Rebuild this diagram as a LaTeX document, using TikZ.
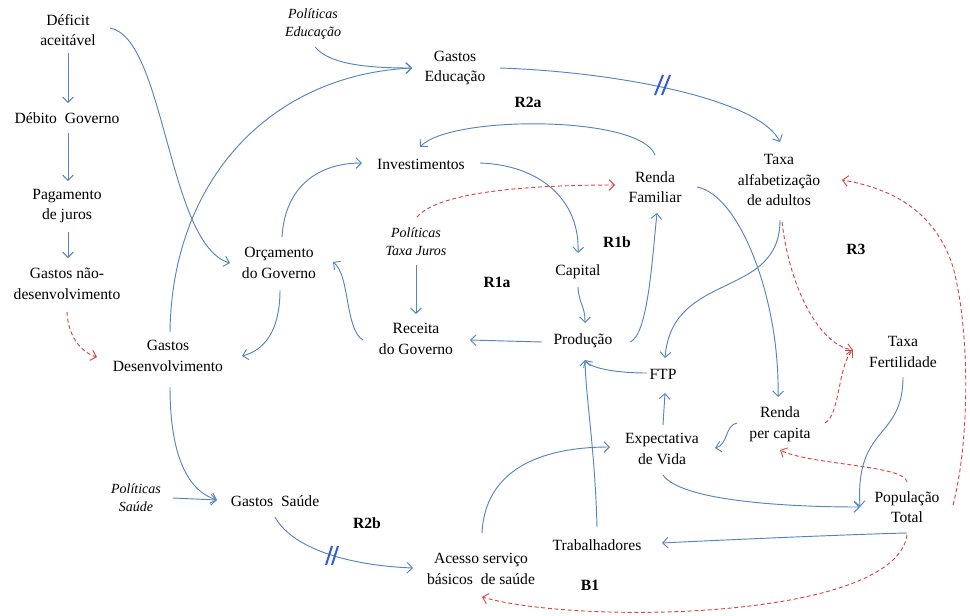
\documentclass[tikz,border=0pt]{standalone}
\usepackage{fontspec}
\setmainfont{Liberation Serif}
\newfontfamily\diagfont{Liberation Serif}
\usetikzlibrary{arrows.meta,calc}
\definecolor{linkblue}{RGB}{86,132,190}
\definecolor{linkred}{RGB}{220,68,68}
\definecolor{delayblue}{RGB}{50,90,215}

\begin{document}
\begin{tikzpicture}[x=0.75pt,y=-0.75pt,
  var/.style={align=center,font=\diagfont\fontsize{11.7}{15.5}\selectfont,inner sep=1pt},
  pol/.style={align=center,font=\diagfont\fontsize{10.5}{13.5}\selectfont\itshape,inner sep=1pt},
  loopname/.style={font=\diagfont\fontsize{11.7}{14}\selectfont\bfseries,inner sep=1pt},
  link/.style={draw=linkblue,line width=0.7pt,-{Straight Barb[length=4pt,width=8pt]}},
  neg/.style={draw=linkred,line width=0.7pt,dash pattern=on 3pt off 2pt,-{Straight Barb[length=4pt,width=8pt]}},
  delay/.style={draw=delayblue,line width=1.5pt}]

\useasboundingbox (0,0) rectangle (970,615);

% variables
\node[var] (deficit)   at (68,30)   {Déficit\\aceitável};
\node[var] (debito)    at (67,118)  {Débito~~Governo};
\node[var] (pagamento) at (67,206)  {Pagamento\\de juros};
\node[var] (naodes)    at (67,284)  {Gastos não-\\desenvolvimento};
\node[pol] (poledu)    at (313,24)  {Políticas\\Educação};
\node[var] (gedu)      at (455,68)  {Gastos\\Educação};
\node[var] (invest)    at (421,164) {Investimentos};
\node[var] (rfam)      at (655,187) {Renda\\Familiar};
\node[var] (alfab)     at (779,180) {Taxa\\alfabetização\\de adultos};
\node[pol] (poljur)    at (416,242) {Políticas\\Taxa Juros};
\node[var] (orc)       at (279,263) {Orçamento\\do Governo};
\node[var] (capital)   at (578,272) {Capital};
\node[var] (receita)   at (416,339) {Receita\\do Governo};
\node[var] (prod)      at (583,341) {Produção};
\node[var] (gdes)      at (168,356) {Gastos\\Desenvolvimento};
\node[var] (ftp)       at (663,374) {FTP};
\node[var] (fert)      at (903,352) {Taxa\\Fertilidade};
\node[var] (rpc)       at (780,424) {Renda\\per capita};
\node[var] (expv)      at (662,449) {Expectativa\\de Vida};
\node[pol] (polsau)    at (136,498) {Políticas\\Saúde};
\node[var] (gsau)      at (275,501) {Gastos~~Saúde};
\node[var] (pop)       at (907,507) {População\\Total};
\node[var] (trab)      at (597,545) {Trabalhadores};
\node[var] (acesso)    at (481,569) {Acesso serviço\\básicos~~de saúde};

% loop labels
\node[loopname] (r2a) at (528,102) {R2a};
\node[loopname] (r1b) at (617,242) {R1b};
\node[loopname] (r1a) at (497,282) {R1a};
\node[loopname] (r3)  at (856,249) {R3};
\node[loopname] (r2b) at (367,523) {R2b};
\node[loopname] (b1)  at (590,585) {B1};

% positive links
\draw[link] ($(deficit)+(0,23)$) -- ($(debito)+(1,-15)$);
\draw[link] ($(debito)+(1,15)$) -- ($(pagamento)+(1,-25)$);
\draw[link] ($(pagamento)+(1,26)$) -- ($(naodes)+(1,-26)$);
\draw[link] ($(deficit)+(42,-2)$) .. controls (165,38) and (168,245) .. ($(orc)+(-49,0)$);
\draw[link] ($(gdes)+(2,-24)$) .. controls (172,180) and (270,75) .. ($(gedu)+(-43,0)$);
\draw[link] ($(poledu)+(2,23)$) .. controls (330,65) and (370,68) .. ($(gedu)+(-43,0)$);
\draw[link] ($(gedu)+(45,0)$) .. controls (620,72) and (760,100) .. ($(alfab)+(1,-38)$);
\draw[link] ($(rfam)+(0,-32)$) .. controls (640,115) and (450,115) .. ($(invest)+(-1,-17)$);
\draw[link] ($(orc)+(3,-26)$) .. controls (285,185) and (320,163) .. ($(invest)+(-59,-1)$);
\draw[link] ($(invest)+(59,-1)$) .. controls (540,165) and (580,200) .. ($(capital)+(0,-19)$);
\draw[link] ($(poljur)+(0,23)$) -- ($(receita)+(0,-25)$);
\draw[link] ($(capital)+(0,15)$) .. controls (579,305) and (585,305) .. ($(prod)+(2,-18)$);
\draw[link] ($(prod)+(-41,1)$) -- ($(receita)+(54,1)$);
\draw[link] ($(receita)+(-53,1)$) .. controls (345,330) and (350,275) .. ($(orc)+(54,-1)$);
\draw[link] ($(orc)+(1,27)$) .. controls (280,330) and (265,350) .. ($(gdes)+(74,0)$);
\draw[link] ($(prod)+(47,1)$) .. controls (648,335) and (652,260) .. ($(rfam)+(2,26)$);
\draw[link] ($(ftp)+(-16,-1)$) .. controls (615,373) and (590,368) .. ($(prod)+(2,19)$);
\draw[link] ($(trab)+(0,-18)$) .. controls (595,450) and (586,400) .. ($(prod)+(2,19)$);
\draw[link] ($(alfab)+(1,40)$) .. controls (780,300) and (672,270) .. ($(ftp)+(2,-16)$);
\draw[link] ($(rfam)+(42,0)$) .. controls (740,195) and (780,300) .. ($(rpc)+(-2,-27)$);
\draw[link] ($(expv)+(1,-24)$) -- ($(ftp)+(2,19)$);
\draw[link] ($(rpc)+(-43,-1)$) .. controls (725,425) and (728,445) .. ($(expv)+(53,-1)$);
\draw[link] ($(expv)+(1,26)$) .. controls (680,500) and (780,507) .. ($(pop)+(-47,0)$);
\draw[link] ($(fert)+(0,25)$) .. controls (903,440) and (855,425) .. ($(pop)+(-47,0)$);
\draw[link] ($(pop)+(0,26)$) .. controls (860,534) and (720,540) .. ($(trab)+(65,-2)$);
\draw[link] ($(acesso)+(1,-36)$) .. controls (485,470) and (540,447) .. ($(expv)+(-52,-2)$);
\draw[link] ($(gsau)+(0,16)$) .. controls (290,545) and (340,565) .. ($(acesso)+(-68,-1)$);
\draw[link] ($(polsau)+(37,0)$) -- ($(gsau)+(-58,-1)$);
\draw[link] ($(gdes)+(2,31)$) .. controls (170,450) and (185,490) .. ($(gsau)+(-58,-1)$);

% negative links
\draw[neg] ($(poljur)+(1,-25)$) .. controls (440,190) and (540,185) .. ($(rfam)+(-40,-2)$);
\draw[neg] ($(naodes)+(0,28)$) .. controls (68,335) and (80,352) .. ($(gdes)+(-71,1)$);
\draw[neg] ($(alfab)+(3,42)$) .. controls (790,290) and (820,345) .. ($(fert)+(-50,-2)$);
\draw[neg] ($(rpc)+(45,-1)$) .. controls (840,415) and (838,365) .. ($(fert)+(-50,-2)$);
\draw[neg] ($(pop)+(0,-25)$) .. controls (905,465) and (810,465) .. ($(rpc)+(0,26)$);
\draw[neg] ($(pop)+(0,28)$) .. controls (895,620) and (580,625) .. ($(acesso)+(1,28)$);
\draw[neg] ($(pop)+(46,-2)$) .. controls (970,440) and (970,330) .. (953,267)
           .. controls (935,210) and (890,188) .. ($(alfab)+(63,0)$);

% delay marks
\draw[delay] (326,565) -- (332,546);
\draw[delay] (332,565) -- (338,546);
\draw[delay] (655,95) -- (663,75);
\draw[delay] (662,95) -- (670,75);
\end{tikzpicture}
\end{document}
